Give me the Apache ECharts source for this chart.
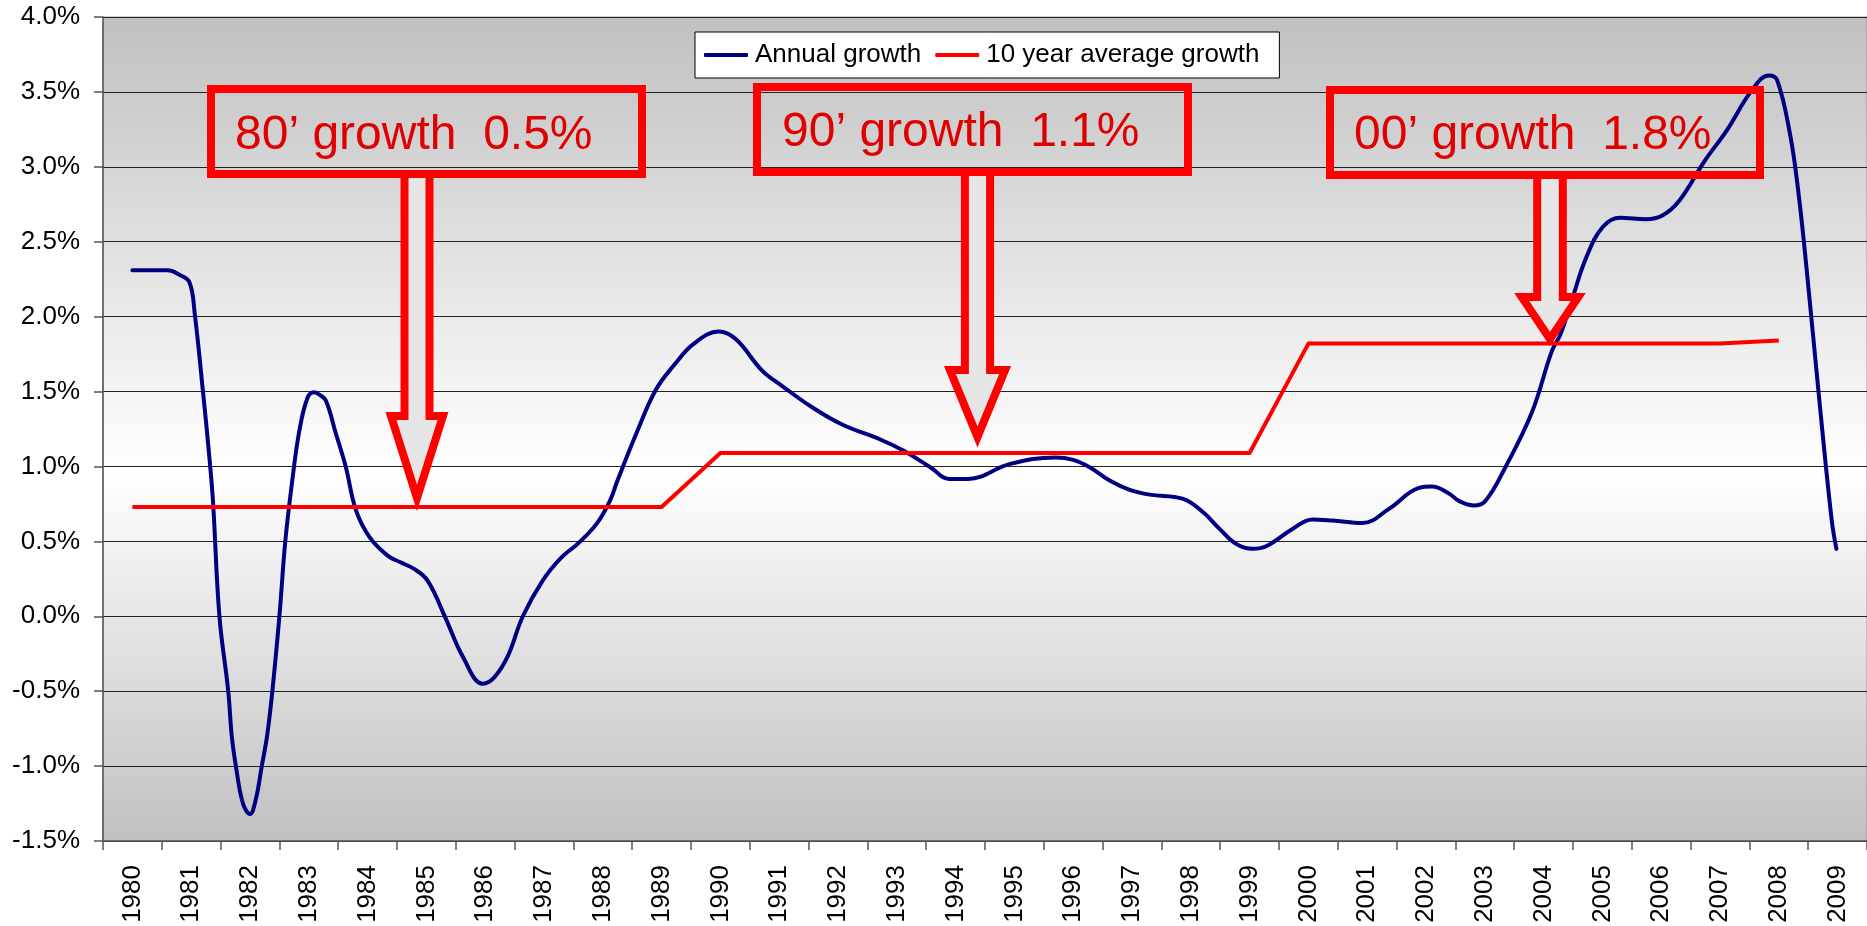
<!DOCTYPE html>
<html>
<head>
<meta charset="utf-8">
<title>Annual growth vs 10 year average growth</title>
<script src="https://cdn.jsdelivr.net/npm/echarts@6.0.0/dist/echarts.min.js"></script>
<style>
html, body { margin: 0; padding: 0; background: #fff; }
#chart { width: 1867px; height: 926px; }
</style>
</head>
<body>
<div id="chart"></div>
<script>
// category labels on the x axis
const yearLabels = ['1980', '1981', '1982', '1983', '1984', '1985', '1986', '1987', '1988', '1989',
  '1990', '1991', '1992', '1993', '1994', '1995', '1996', '1997', '1998', '1999',
  '2000', '2001', '2002', '2003', '2004', '2005', '2006', '2007', '2008', '2009'];

// annual growth (%)
const growthTime = [1980.0, 1980.3, 1980.6, 1980.8, 1980.97, 1981.06, 1981.2, 1981.3, 1981.37, 1981.48,
  1981.63, 1981.69, 1981.76, 1981.88, 1982.0, 1982.1, 1982.2, 1982.29, 1982.38, 1982.5,
  1982.6, 1982.72, 1982.84, 1982.98, 1983.09, 1983.18, 1983.29, 1983.46, 1983.63, 1983.8,
  1984.03, 1984.34, 1984.56, 1984.79, 1985.02, 1985.32, 1985.62, 1985.96, 1986.15, 1986.38,
  1986.64, 1986.98, 1987.29, 1987.59, 1987.9, 1988.12, 1988.25, 1988.57, 1988.9, 1989.22,
  1989.55, 1989.97, 1990.26, 1990.71, 1991.04, 1991.56, 1992.07, 1992.72, 1993.11, 1993.57,
  1993.89, 1994.21, 1994.93, 1995.7, 1996.0, 1996.28, 1996.62, 1996.96, 1997.3, 1997.87,
  1998.21, 1998.49, 1998.77, 1999.05, 1999.28, 1999.73, 2000.07, 2000.41, 2000.92, 2001.37,
  2001.88, 2002.1, 2002.39, 2002.56, 2002.81, 2003.01, 2003.35, 2003.8, 2004.14, 2004.29,
  2004.48, 2004.73, 2005.01, 2005.3, 2005.74, 2006.02, 2006.31, 2006.74, 2007.11, 2007.54,
  2007.83, 2007.97, 2008.19, 2008.33, 2008.47, 2008.69, 2008.9, 2008.98];
const growthValue = [2.31, 2.31, 2.31, 2.28, 2.23, 2.02, 1.5, 1.1, 0.77, 0.0,
  -0.5, -0.8, -1.0, -1.25, -1.32, -1.22, -1.0, -0.8, -0.5, 0.0,
  0.5, 0.91, 1.24, 1.46, 1.495, 1.48, 1.44, 1.22, 0.995, 0.71,
  0.53, 0.405, 0.36, 0.316, 0.238, -0.007, -0.27, -0.45, -0.41, -0.27,
  0.0, 0.24, 0.39, 0.49, 0.62, 0.77, 0.906, 1.22, 1.51, 1.68,
  1.82, 1.9, 1.85, 1.64, 1.54, 1.395, 1.28, 1.18, 1.106, 0.995,
  0.917, 0.917, 1.017, 1.06, 1.044, 0.995, 0.906, 0.844, 0.812, 0.784,
  0.694, 0.583, 0.483, 0.45, 0.467, 0.583, 0.646, 0.639, 0.623, 0.717,
  0.857, 0.866, 0.82, 0.77, 0.74, 0.77, 0.995, 1.36, 1.77, 1.885,
  2.11, 2.4, 2.6, 2.66, 2.65, 2.675, 2.775, 3.04, 3.24, 3.51,
  3.61, 3.58, 3.22, 2.84, 2.33, 1.44, 0.64, 0.45];

// 10 year average growth (%)
const avgYears = [1980, 1981, 1982, 1983, 1984, 1985, 1986, 1987, 1988, 1989,
  1990, 1991, 1992, 1993, 1994, 1995, 1996, 1997, 1998, 1999,
  2000, 2001, 2002, 2003, 2004, 2005, 2006, 2007, 2008];
const avgValue = [0.73, 0.73, 0.73, 0.73, 0.73, 0.73, 0.73, 0.73, 0.73, 0.73,
  1.09, 1.09, 1.09, 1.09, 1.09, 1.09, 1.09, 1.09, 1.09, 1.09,
  1.82, 1.82, 1.82, 1.82, 1.82, 1.82, 1.82, 1.82, 1.84];

// y axis: -1.5% .. 4.0% every 0.5%
const yMin = -1.5, yMax = 4.0, yStep = 0.5;

// text boxes with arrows (pixel layout)
const notes = [
  { text: '80\u2019 growth  0.5%', box: [211, 89, 431, 85], tx: 235, ty: 136,
    arrow: { cx: 417, top: 174, shaft: 12.5, headTop: 416, head: 26, tip: 498 } },
  { text: '90\u2019 growth  1.1%', box: [757, 87, 431, 85], tx: 782, ty: 133,
    arrow: { cx: 977.5, top: 172, shaft: 12.6, headTop: 370, head: 27.6, tip: 437 } },
  { text: '00\u2019 growth  1.8%', box: [1330, 90, 430, 85], tx: 1354, ty: 136,
    arrow: { cx: 1550, top: 175, shaft: 12.8, headTop: 297, head: 28.3, tip: 339 } }
];

const FONT = '"Liberation Sans", Arial, sans-serif';

const myChart = echarts.init(document.getElementById('chart'));

const graphics = [];
notes.forEach(function (n) {
  const a = n.arrow;
  graphics.push({
    type: 'polygon',
    z: 100,
    shape: {
      points: [
        [a.cx - a.shaft, a.top], [a.cx + a.shaft, a.top], [a.cx + a.shaft, a.headTop],
        [a.cx + a.head, a.headTop], [a.cx, a.tip], [a.cx - a.head, a.headTop],
        [a.cx - a.shaft, a.headTop]
      ]
    },
    style: { fill: '#e6e6e6', stroke: '#ff0000', lineWidth: 8, lineJoin: 'miter', miterLimit: 10 }
  });
  graphics.push({
    type: 'rect',
    z: 101,
    shape: { x: n.box[0], y: n.box[1], width: n.box[2], height: n.box[3] },
    style: { fill: 'none', stroke: '#ff0000', lineWidth: 8 }
  });
  graphics.push({
    type: 'text',
    z: 102,
    x: n.tx,
    y: n.ty,
    style: {
      text: n.text, fill: '#e00000', fontSize: 48, fontFamily: FONT,
      align: 'left', verticalAlign: 'middle'
    }
  });
});

myChart.setOption({
  backgroundColor: '#ffffff',
  animation: false,
  grid: {
    left: 103,
    top: 17,
    width: 1770,
    height: 824,
    show: true,
    borderColor: '#999999',
    borderWidth: 1,
    backgroundColor: new echarts.graphic.LinearGradient(0, 0, 0, 1, [
      { offset: 0, color: '#c0c0c0' },
      { offset: 0.55, color: '#ffffff' },
      { offset: 1, color: '#c0c0c0' }
    ])
  },
  legend: {
    left: 695,
    top: 32,
    orient: 'horizontal',
    data: ['Annual growth', '10 year average growth'],
    icon: 'roundRect',
    itemWidth: 44,
    itemHeight: 4,
    itemGap: 14,
    padding: [10, 20, 10, 9],
    backgroundColor: '#ffffff',
    borderColor: '#000000',
    borderWidth: 1,
    borderRadius: 0,
    textStyle: { fontSize: 26, fontFamily: FONT, color: '#000', padding: [0, 0, 0, 2] }
  },
  xAxis: [
    { type: 'value', min: 1979.5, max: 2009.5, show: false, position: 'top' },
    {
      type: 'category',
      data: yearLabels,
      boundaryGap: true,
      position: 'bottom',
      axisLine: { onZero: true, lineStyle: { color: '#555', width: 1.5 } },
      axisTick: { show: true, interval: 0, length: 9, lineStyle: { color: '#555', width: 1.5 } },
      axisLabel: { show: false },
      splitLine: { show: false }
    },
    {
      type: 'category',
      data: yearLabels,
      boundaryGap: true,
      position: 'bottom',
      axisLine: { show: false, onZero: false },
      axisTick: { show: false },
      axisLabel: {
        interval: 0, rotate: 90, margin: 24,
        fontSize: 26, fontFamily: FONT, color: '#000'
      },
      splitLine: { show: false }
    }
  ],
  yAxis: {
    type: 'value',
    min: yMin,
    max: yMax,
    interval: yStep,
    axisLine: { show: true, onZero: false, lineStyle: { color: '#555', width: 1.5 } },
    axisTick: { show: true, length: 9, lineStyle: { color: '#555', width: 1.5 } },
    axisLabel: {
      showMinLabel: true, showMaxLabel: true,
      margin: 23, fontSize: 26, fontFamily: FONT, color: '#000',
      formatter: function (v) { return v.toFixed(1) + '%'; }
    },
    splitLine: { show: true, lineStyle: { color: '#222', width: 1 } }
  },
  series: [
    {
      name: 'Annual growth',
      type: 'line',
      xAxisIndex: 0,
      yAxisIndex: 0,
      data: growthTime.map(function (t, i) { return [t, growthValue[i]]; }),
      symbol: 'none',
      smooth: 0.4,
      lineStyle: { color: '#000080', width: 4, join: 'round', cap: 'round' },
      itemStyle: { color: '#000080' }
    },
    {
      name: '10 year average growth',
      type: 'line',
      xAxisIndex: 0,
      yAxisIndex: 0,
      data: avgYears.map(function (t, i) { return [t, avgValue[i]]; }),
      symbol: 'none',
      lineStyle: { color: '#ff0000', width: 4, join: 'round' },
      itemStyle: { color: '#ff0000' }
    }
  ],
  graphic: graphics
});

window.addEventListener('resize', function () {
  myChart.resize();
});
</script>
</body>
</html>
